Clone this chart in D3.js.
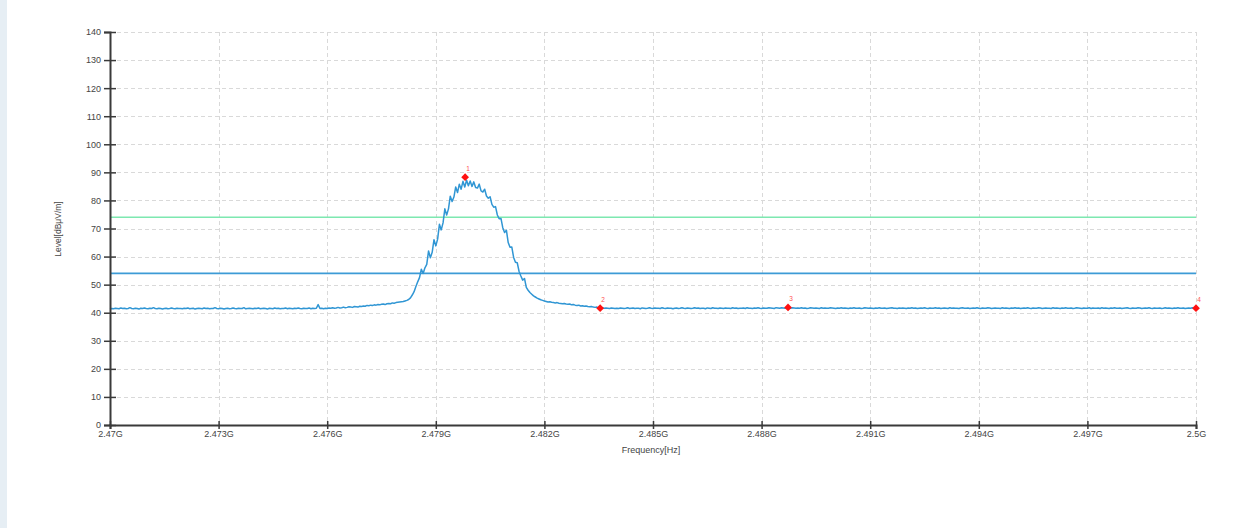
<!DOCTYPE html>
<html>
<head>
<meta charset="utf-8">
<script src="https://cdn.jsdelivr.net/npm/d3@7"></script>
<style>
  html, body { margin: 0; padding: 0; background: #ffffff; }
  svg { display: block; font-family: "Liberation Sans", Arial, sans-serif; }
</style>
</head>
<body>
<svg id="chart" width="1257" height="528"></svg>
<script>
// Sweep: 2.47 GHz to 2.5 GHz, one reading every 50 kHz (601 points)
const sweepStartGHz = 2.47;
const sweepStepGHz = 0.00005;

// Measured level per sweep point, dBµV/m
const traceLevel = [
  41.3,41.5,41.4,41.6,41.5,41.4,41.7,41.5,41.6,41.4,41.5,41.8,41.5,41.4,41.6,41.5,41.3,41.6,41.5,41.7,
  41.5,41.4,41.6,41.5,41.8,41.5,41.4,41.6,41.5,41.3,41.5,41.6,41.4,41.5,41.7,41.5,41.4,41.6,41.5,41.5,
  41.4,41.6,41.5,41.7,41.4,41.5,41.6,41.3,41.5,41.6,41.5,41.4,41.7,41.5,41.6,41.4,41.5,41.5,41.8,41.5,
  41.4,41.6,41.5,41.3,41.5,41.6,41.4,41.5,41.7,41.5,41.4,41.6,41.5,41.5,41.8,41.4,41.5,41.6,41.5,41.4,
  41.6,41.5,41.7,41.4,41.5,41.6,41.5,41.3,41.6,41.5,41.4,41.7,41.5,41.6,41.4,41.5,41.5,41.7,41.4,41.6,
  41.5,41.4,41.6,41.5,41.7,41.5,41.4,41.6,41.5,41.5,41.7,41.4,41.6,41.5,41.6,42.9,41.5,41.6,41.4,41.6,
  41.5,41.7,41.6,41.8,41.6,41.7,41.9,41.7,41.8,42.0,41.8,41.9,42.1,42.0,41.9,42.2,42.1,42.0,42.3,42.2,
  42.4,42.3,42.6,42.5,42.7,42.6,42.8,42.7,42.9,42.8,43.0,43.1,42.9,43.2,43.3,43.2,43.5,43.4,43.6,43.7,
  43.8,43.9,44.0,44.2,44.4,44.7,45.3,46.3,47.5,49.3,51.0,52.5,55.5,54.0,56.0,57.2,62.0,59.6,61.5,66.0,
  63.8,66.2,71.5,69.5,72.0,77.0,74.8,77.0,81.5,79.6,81.2,84.8,82.8,85.8,84.0,86.8,84.8,87.2,85.2,86.9,
  85.0,86.6,84.6,84.4,85.8,83.4,83.0,84.0,81.6,80.8,81.3,78.6,77.6,77.8,74.8,73.5,73.6,70.3,68.6,69.4,
  65.0,63.3,63.4,59.7,58.0,57.8,54.7,53.1,51.6,52.2,49.0,48.0,47.2,46.6,46.0,45.6,45.2,44.9,44.6,44.4,
  44.2,44.0,43.8,43.9,43.7,43.6,43.5,43.6,43.4,43.3,43.2,43.3,43.1,43.0,43.1,42.8,42.9,42.7,42.6,42.7,
  42.4,42.5,42.3,42.4,42.2,42.1,42.2,42.0,41.9,42.0,41.8,41.7,41.8,41.6,41.7,41.6,41.5,41.7,41.6,41.5,
  41.6,41.5,41.7,41.6,41.5,41.6,41.8,41.5,41.6,41.7,41.5,41.6,41.6,41.4,41.7,41.6,41.5,41.6,41.8,41.6,
  41.5,41.7,41.6,41.6,41.5,41.8,41.6,41.5,41.7,41.6,41.6,41.4,41.6,41.7,41.5,41.6,41.8,41.6,41.5,41.7,
  41.6,41.5,41.6,41.8,41.6,41.7,41.5,41.6,41.6,41.4,41.7,41.6,41.5,41.8,41.6,41.6,41.5,41.7,41.6,41.5,
  41.7,41.6,41.6,41.5,41.8,41.6,41.7,41.5,41.6,41.6,41.7,41.5,41.8,41.6,41.6,41.5,41.7,41.6,41.8,41.6,
  41.5,41.7,41.6,41.6,41.8,41.7,41.6,41.5,41.8,41.7,41.6,41.8,41.7,41.6,41.9,41.7,41.6,41.8,41.7,41.6,
  41.7,41.6,41.8,41.6,41.7,41.5,41.6,41.8,41.7,41.6,41.7,41.6,41.5,41.8,41.6,41.7,41.6,41.6,41.8,41.7,
  41.6,41.5,41.7,41.6,41.8,41.6,41.7,41.6,41.5,41.7,41.6,41.8,41.6,41.6,41.7,41.5,41.6,41.8,41.7,41.6,
  41.7,41.6,41.5,41.7,41.6,41.8,41.6,41.6,41.7,41.5,41.6,41.7,41.8,41.6,41.6,41.5,41.7,41.6,41.7,41.6,
  41.5,41.7,41.6,41.8,41.6,41.7,41.5,41.6,41.7,41.6,41.8,41.6,41.5,41.7,41.6,41.6,41.8,41.6,41.7,41.5,
  41.6,41.7,41.6,41.5,41.8,41.6,41.7,41.6,41.6,41.5,41.7,41.8,41.6,41.6,41.7,41.5,41.6,41.7,41.6,41.8,
  41.6,41.5,41.7,41.6,41.6,41.8,41.7,41.5,41.6,41.7,41.6,41.6,41.5,41.8,41.6,41.7,41.6,41.5,41.7,41.6,
  41.8,41.6,41.7,41.5,41.6,41.7,41.6,41.8,41.6,41.5,41.7,41.6,41.6,41.8,41.7,41.5,41.6,41.7,41.6,41.6,
  41.5,41.8,41.6,41.7,41.6,41.5,41.7,41.6,41.8,41.6,41.6,41.7,41.5,41.6,41.8,41.7,41.6,41.5,41.7,41.6,
  41.6,41.8,41.5,41.7,41.6,41.6,41.7,41.5,41.8,41.6,41.7,41.6,41.5,41.7,41.6,41.8,41.6,41.6,41.7,41.5,
  41.6,41.7,41.8,41.6,41.5,41.7,41.6,41.6,41.8,41.7,41.5,41.6,41.7,41.6,41.8,41.6,41.5,41.7,41.6,41.6,
  41.7,41.5,41.6,41.8,41.6,41.7,41.6,41.5,41.7,41.6,41.8,41.6,41.6,41.7,41.5,41.6,41.7,41.6,41.8,41.6,
  41.6
];

// Limit lines, dBµV/m
const limitLevels = [74, 54];
const limitColors = ["#7de8b0", "#3d9bd6"];

// Peak markers
const markerLabels = ["1", "2", "3", "4"];
const markerFreqGHz = [2.47981, 2.48354, 2.48873, 2.5];
const markerLevels = [88.3, 41.6, 41.9, 41.6];

// Axis ticks
const xTicksGHz = [2.47, 2.473, 2.476, 2.479, 2.482, 2.485, 2.488, 2.491, 2.494, 2.497, 2.5];
const xTickLabels = ["2.47G", "2.473G", "2.476G", "2.479G", "2.482G", "2.485G", "2.488G", "2.491G", "2.494G", "2.497G", "2.5G"];
const yTicks = [0, 10, 20, 30, 40, 50, 60, 70, 80, 90, 100, 110, 120, 130, 140];

const xTitle = "Frequency[Hz]";
const yTitle = "Level[dBμV/m]";

const svg = d3.select("#chart");
const plot = { left: 110, right: 1196, top: 32, bottom: 425 };

// left page strip
svg.append("rect").attr("x", 0).attr("y", 0).attr("width", 7).attr("height", 528).attr("fill", "#e6eef4");

const x = d3.scaleLinear().domain([2.47, 2.5]).range([plot.left, plot.right]);
const y = d3.scaleLinear().domain([0, 140]).range([plot.bottom, plot.top]);

// dashed grid
const grid = svg.append("g").attr("stroke", "#d9d9d9").attr("stroke-width", 1).attr("stroke-dasharray", "4,3");
grid.selectAll("line.h").data(yTicks.filter(d => d > 0)).join("line")
  .attr("x1", plot.left).attr("x2", plot.right)
  .attr("y1", d => Math.round(y(d)) + 0.5).attr("y2", d => Math.round(y(d)) + 0.5);
grid.selectAll("line.v").data(xTicksGHz.filter(d => d > 2.47)).join("line")
  .attr("x1", d => Math.round(x(d)) + 0.5).attr("x2", d => Math.round(x(d)) + 0.5)
  .attr("y1", plot.top).attr("y2", plot.bottom);

// limit lines
svg.append("g").selectAll("line").data(limitLevels).join("line")
  .attr("x1", plot.left).attr("x2", plot.right)
  .attr("y1", d => y(d)).attr("y2", d => y(d))
  .attr("stroke", (d, i) => limitColors[i]).attr("stroke-width", 1.6);

// measured trace
const trace = traceLevel.map((v, i) => [sweepStartGHz + i * sweepStepGHz, v]);
svg.append("path").datum(trace)
  .attr("fill", "none").attr("stroke", "#3096d4").attr("stroke-width", 1.5)
  .attr("stroke-linejoin", "round")
  .attr("d", d3.line().x(d => x(d[0])).y(d => y(d[1])));

// axes
const yAxis = svg.append("g").attr("transform", `translate(${plot.left},0)`)
  .call(d3.axisLeft(y).tickValues(yTicks).tickSize(6).tickPadding(3).tickFormat(d3.format("d")));
yAxis.selectAll(".tick").append("line").attr("x2", 6).attr("stroke", "currentColor");
yAxis.selectAll(".tick line").attr("stroke-width", 1.5);
yAxis.select(".domain").attr("stroke-width", 2);

const xAxis = svg.append("g").attr("transform", `translate(0,${plot.bottom})`)
  .call(d3.axisBottom(x).tickValues(xTicksGHz).tickSize(4).tickPadding(2)
    .tickFormat((d, i) => xTickLabels[i]));
xAxis.selectAll(".tick").append("line").attr("y2", -4).attr("stroke", "currentColor");
xAxis.selectAll(".tick line").attr("stroke-width", 1.5);
xAxis.select(".domain").attr("stroke-width", 2);

[yAxis, xAxis].forEach(a => {
  a.attr("color", "#3a3a3a").attr("font-size", 9).attr("font-family", "Liberation Sans, Arial, sans-serif");
  a.selectAll("text").attr("fill", "#444");
});

// axis titles
svg.append("text").attr("x", 651).attr("y", 453).attr("text-anchor", "middle")
  .attr("font-size", 9).attr("fill", "#444").text(xTitle);
svg.append("text").attr("transform", "translate(61,229) rotate(-90)").attr("text-anchor", "middle")
  .attr("font-size", 8.5).attr("fill", "#444").text(yTitle);

// markers: small rotated squares with their index above
const markers = markerLabels.map((m, i) => ({ label: m, f: markerFreqGHz[i], v: markerLevels[i] }));
const mg = svg.append("g");
mg.selectAll("path").data(markers).join("path")
  .attr("transform", d => `translate(${x(d.f)},${y(d.v)}) rotate(45)`)
  .attr("d", d3.symbol().type(d3.symbolSquare).size(30))
  .attr("fill", "#ff1010");
mg.selectAll("text").data(markers).join("text")
  .attr("x", d => x(d.f) + 3).attr("y", d => y(d.v) - 6)
  .attr("font-size", 6.5).attr("fill", "#ff5050").attr("text-anchor", "middle")
  .text(d => d.label);
</script>
</body>
</html>
